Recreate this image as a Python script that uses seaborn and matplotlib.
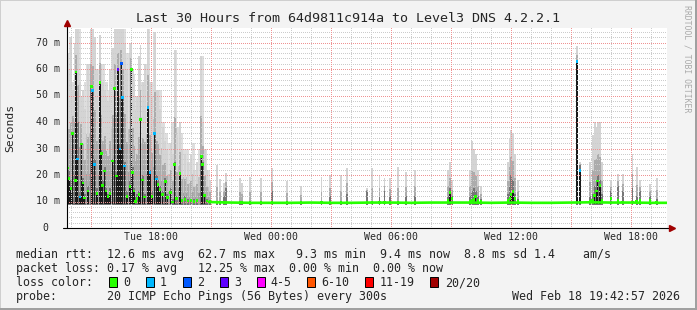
import matplotlib
matplotlib.use("Agg")
import matplotlib.pyplot as plt
import matplotlib.patches as mpatches
import numpy as np
import pandas as pd
import seaborn as sns

# ---------------- data (hours since Tue 00:00, values in ms) ----------------
# individual 5-minute samples with visible smoke / non-baseline medians
ev_t = [13.825, 13.9, 14.0, 14.085, 14.215, 14.25, 14.335, 14.45, 14.515, 14.6,
        14.685, 14.85, 15.015, 15.085, 15.185, 15.3, 15.45, 15.515, 15.585, 15.685,
        15.75, 15.85, 15.95, 16.085, 16.185, 16.265, 16.35, 16.45, 16.515, 16.585,
        16.685, 16.8, 16.95, 17.015, 17.085, 17.15, 17.215, 17.3, 17.4, 17.475,
        17.585, 17.685, 17.85, 17.95, 18.05, 18.185, 18.285, 18.35, 18.45, 18.585,
        18.715, 18.815, 18.985, 19.085, 19.185, 19.285, 19.45, 19.55, 19.7, 19.85,
        20.0, 20.15, 20.3, 20.515, 20.585, 20.685, 20.8, 20.95,
        21.3, 21.45, 21.65, 21.75, 22.45, 22.55, 22.95, 23.5, 24.05, 24.8,
        25.5, 26.525, 26.95, 27.5, 27.8, 28.8, 29.05, 29.425, 29.675, 29.95,
        30.35, 30.75, 31.2, 32.85, 32.95, 33.05, 33.95, 34.05, 34.15, 34.235,
        34.35, 34.5, 35.85, 35.95, 36.0, 36.1, 36.2, 36.35, 39.3, 39.45,
        39.95, 40.085, 40.185, 40.285, 40.335, 40.45, 40.55, 41.0, 41.35, 41.585,
        42.075, 42.285, 42.45, 42.95, 43.285]
ev_med = [22.6, 18.8, 15.0, 35.8, 18.0, 58.9, 26.0, 11.7, 31.7, 17.0,
          11.3, 14.0, 53.3, 52.0, 24.0, 13.0, 54.8, 28.0, 16.0, 21.5,
          14.0, 12.0, 13.0, 25.3, 52.5, 19.6, 59.9, 29.8, 62.0, 49.2,
          23.4, 12.0, 15.8, 59.9, 20.8, 14.0, 10.0, 11.0, 12.5, 40.8,
          18.1, 11.7, 45.4, 20.8, 12.0, 35.6, 18.5, 16.5, 14.5, 12.5,
          17.5, 11.5, 13.5, 9.8, 24.0, 11.0, 20.6, 10.5, 10.8, 10.2,
          10.5, 10.0, 10.3, 27.0, 24.0, 12.4, 10.2, 10.0,
          9.6, 9.6, 9.6, 9.6, 9.6, 9.6, 9.6, 9.6, 9.6, 9.6,
          9.6, 9.6, 9.6, 9.6, 9.6, 9.6, 9.6, 9.6, 9.6, 9.6,
          9.6, 9.6, 9.6, 10.5, 13.3, 11.0, 10.0, 10.5, 10.8, 11.8,
          10.5, 10.0, 10.5, 11.0, 12.5, 13.7, 11.0, 10.0, 62.8, 21.6,
          10.2, 10.5, 12.2, 14.0, 17.7, 16.0, 10.5, 11.0, 10.5, 9.8,
          9.8, 10.0, 10.5, 10.3, 9.8]
ev_core = [30, 22, 18, 36, 20, 59, 40, 14, 32, 19,
           13, 16, 53, 52, 26, 15, 55, 30, 18, 23,
           15, 13, 15, 26, 53, 21, 60, 32, 62, 50,
           25, 14, 18, 60, 23, 15, 12, 13, 14, 41,
           20, 13, 46, 22, 14, 36, 20, 18, 16, 14,
           19, 13, 15, 11, 25, 12, 21, 11, 12, 11,
           11, 11, 11, 27, 25, 13, 11, 10.5,
           10, 10, 12, 15, 10, 10, 10, 10, 14, 10,
           10, 10, 12, 10, 13, 14, 10, 12, 14, 12,
           10, 12, 12, 12, 15, 12, 12, 14, 15, 14,
           12, 11, 13, 16, 20, 18, 13, 11, 62.8, 23.8,
           12, 13, 16, 18, 20, 18, 13, 14, 16, 14,
           15, 12, 14, 12, 11]
ev_top = [66, 60, 72, 52, 70, 75, 75, 55, 50, 52,
          45, 62, 75, 75, 72, 60, 73, 62, 55, 52,
          50, 48, 60, 68, 75, 75, 75, 75, 75, 75,
          70, 60, 66, 70, 60, 55, 45, 50, 65, 69,
          55, 62, 75, 55, 50, 74, 52, 52, 45, 38,
          33, 30, 32, 28, 67, 35, 40, 30, 28, 25,
          28, 22, 25, 65, 40, 30, 22, 18,
          23.8, 18.5, 17, 20.7, 19, 17, 19.4, 19, 22.8, 17.6,
          16, 19.4, 20, 20, 22.5, 15, 22.7, 20, 19, 19,
          23, 21, 22, 22, 25, 18, 22, 33, 30, 28,
          22, 16, 25, 34, 37, 36, 28, 18, 68.8, 25,
          25, 35, 40, 38, 40, 40, 25, 18, 20.5, 20.5,
          28, 23, 18, 16.7, 19]
ev_loss = [0, 0, 0, 0, 0, 0, 1, 1, 0, 0,
           0, 0, 0, 1, 1, 0, 0, 0, 0, 0,
           0, 0, 0, 0, 0, 0, 3, 1, 2, 1,
           1, 0, 0, 0, 0, 0, 0, 0, 0, 0,
           0, 0, 1, 1, 0, 1, 1, 0, 0, 0,
           0, 0, 0, 0, 0, 0, 0, 0, 0, 0,
           0, 0, 0, 0, 0, 0, 0, 0,
           0, 0, 0, 0, 0, 0, 0, 0, 0, 0,
           0, 0, 0, 0, 0, 0, 0, 0, 0, 0,
           0, 0, 0, 0, 0, 0, 0, 0, 0, 0,
           0, 0, 0, 0, 0, 0, 0, 0, 1, 1,
           0, 0, 0, 0, 0, 0, 0, 0, 0, 0,
           0, 0, 0, 0, 0]

# broad smoke envelope of the turbulent first hours
env_t = [13.8, 13.95, 14.1, 14.25, 14.4, 14.55, 14.7, 14.85, 15.0, 15.15,
         15.3, 15.45, 15.6, 15.75, 15.9, 16.05, 16.2, 16.35, 16.5, 16.65,
         16.8, 16.95, 17.1, 17.25, 17.4, 17.55, 17.7, 17.85, 18.0, 18.15,
         18.3, 18.45, 18.6, 18.75, 18.9, 19.05, 19.2, 19.35, 19.5, 19.65,
         19.8, 19.95, 20.1, 20.25, 20.4, 20.55, 20.7, 20.85, 21.0]
env_top = [66, 72, 55, 75, 75, 50, 55, 62, 75, 72,
           60, 73, 62, 55, 52, 68, 75, 75, 75, 75,
           66, 70, 58, 50, 65, 55, 62, 75, 55, 74,
           52, 52, 40, 36, 32, 40, 67, 38, 36, 30,
           30, 25, 32, 22, 30, 65, 30, 22, 15]

# steady median after things calmed down
base_t = [20.9, 22, 23, 24, 25, 26, 27, 28, 29, 30, 31, 32, 33, 34, 35, 36,
          37, 38, 39, 40, 41, 42, 43, 43.8]
base_ms = [9.8, 9.6, 9.5, 9.5, 9.5, 9.6, 9.5, 9.5, 9.6, 9.6, 9.5, 9.6, 9.6,
           9.6, 9.5, 9.6, 9.5, 9.5, 9.6, 9.7, 9.6, 9.6, 9.5, 9.5]

x_ticks = [18, 24, 30, 36, 42]
x_labels = ["Tue 18:00", "Wed 00:00", "Wed 06:00", "Wed 12:00", "Wed 18:00"]
y_ticks = [0, 10, 20, 30, 40, 50, 60, 70]
y_labels = ["0", "10 m", "20 m", "30 m", "40 m", "50 m", "60 m", "70 m"]

loss_names = ["0", "1", "2", "3", "4-5", "6-10", "11-19", "20/20"]
loss_colors = ["#26ff00", "#00b8ff", "#0059ff", "#5e00ff", "#ff00ff",
               "#ff5500", "#ff0000", "#a10000"]

title = "Last 30 Hours from 64d9811c914a to Level3 DNS 4.2.2.1"
line1 = "median rtt:  12.6 ms avg  62.7 ms max   9.3 ms min  9.4 ms now  8.8 ms sd 1.4    am/s"
line2 = "packet loss: 0.17 % avg   12.25 % max  0.00 % min  0.00 % now"
probe_txt = "20 ICMP Echo Pings (56 Bytes) every 300s"
stamp = "Wed Feb 18 19:42:57 2026"

# ---------------- drawing ----------------
sns.set_theme(style="white")
plt.rcParams['font.family'] = ['DejaVu Sans Mono', 'DejaVu Sans']

W, H = 697, 310
BG = "#f3f3f3"
fig = plt.figure(figsize=(W / 100, H / 100), dpi=100, facecolor=BG)


def fx(px):
    return px / W


def fy(py):
    return 1 - py / H


PW, PH = 600, 200
X0, X1 = 13.8, 43.8
PXMS = 2.65
YMAX = PH / PXMS

ax = fig.add_axes([fx(67), fy(228), PW / W, PH / H])
ax.set_facecolor("white")
for s in ax.spines.values():
    s.set_visible(False)

ev = pd.DataFrame({"t": ev_t, "med": ev_med, "core": ev_core,
                   "top": ev_top, "loss": ev_loss})
floor = 8.6
step = 5 / 60

# envelope smoke (graded from light at the top to darker near the floor)
env_top_a = np.array(env_top, float)
for frac, col in [(1.0, "#dedede"), (0.5, "#c2c2c2"), (0.22, "#a2a2a2")]:
    ax.fill_between(env_t, floor, floor + frac * (env_top_a - floor), step="mid",
                    color=col, lw=0, zorder=0.5)

# per-sample smoke layers
for frac, col in [(1.0, "#d4d4d4"), (0.4, "#acacac"), (0.0, "#767676")]:
    hi = ev["core"] + frac * (ev["top"] - ev["core"])
    ax.bar(ev["t"], hi - floor, bottom=floor, width=step, color=col, lw=0, zorder=1)
dark = ev[ev["med"] > 11]
ax.bar(dark["t"], dark["med"] - 9.0, bottom=9.0, width=0.075, color="#1a1a1a", lw=0, zorder=1.5)

# dotted grid as a pixel-exact overlay (rrdtool draws it over the smoke)
grid = np.zeros((PH, PW, 4))
minor_rgba = (0.80, 0.80, 0.80, 1.0)
major_rgba = (0.94, 0.58, 0.58, 1.0)
for v in range(2, 76, 2):
    r = int(round((YMAX - v) * PXMS))
    if 0 <= r < PH and v % 10:
        grid[r, ::2] = minor_rgba
for h in range(14, 44):
    c = int(round((h - X0) * 20))
    if 0 <= c < PW and h % 3:
        grid[::2, c] = minor_rgba
for v in range(10, 80, 10):
    r = int(round((YMAX - v) * PXMS))
    if 0 <= r < PH:
        grid[r, ::2] = major_rgba
for h in range(15, 44, 3):
    c = int(round((h - X0) * 20))
    if 0 <= c < PW:
        grid[::2, c] = major_rgba
ax.imshow(grid, extent=(X0, X1, 0, YMAX), origin="upper", aspect="auto",
          interpolation="nearest", zorder=2)

# median line + coloured median samples
sns.lineplot(x=base_t, y=base_ms, color=loss_colors[0], lw=1.9, ax=ax, zorder=3)
pal = {i: c for i, c in enumerate(loss_colors)}
sns.scatterplot(data=ev, x="t", y="med", hue="loss", palette=pal, marker="s", s=4,
                linewidth=0, legend=False, ax=ax, zorder=4)

ax.set_xlim(X0, X1)
ax.set_ylim(0, YMAX)
ax.set_xlabel("")
ax.set_ylabel("")
ax.set_xticks([])
ax.set_yticks([])

# axes lines and arrows
ax.plot([-4 / PW, 1 + 3 / PW], [0, 0], transform=ax.transAxes, color="black",
        lw=0.8, clip_on=False, zorder=5)
ax.plot([0, 0], [0, 1 + 4 / PH], transform=ax.transAxes, color="black",
        lw=0.8, clip_on=False, zorder=5)
ax.plot([0], [1 + 5 / PH], transform=ax.transAxes, marker="^", ms=4.5,
        color="#a00000", clip_on=False, zorder=6)
ax.plot([1 + 5 / PW], [0], transform=ax.transAxes, marker=">", ms=4.5,
        color="#a00000", clip_on=False, zorder=6)

# tick labels
for xt, lab in zip(x_ticks, x_labels):
    px = 67 + (xt - X0) * 20
    fig.text(fx(px), fy(237.5), lab, ha="center", va="center", fontsize=7.1)
for yt, lab in zip(y_ticks, y_labels):
    py = 228 - yt * PXMS
    xr = 60 if yt else 48
    fig.text(fx(xr), fy(py), lab, ha="right", va="center", fontsize=7.1)

fig.text(fx(10), fy(128), "Seconds", rotation=90, ha="center", va="center", fontsize=8.2)
fig.text(fx(348.5), fy(19), title, ha="center", va="center", fontsize=9.6)
fig.text(fx(687), fy(5), "RRDTOOL / TOBI OETIKER", rotation=-90, ha="center", va="top",
         fontsize=5.9, color="#aaaaaa")

LF = 8.37
fig.text(fx(16), fy(254.5), line1, ha="left", va="center", fontsize=LF)
fig.text(fx(16), fy(268.5), line2, ha="left", va="center", fontsize=LF)
fig.text(fx(16), fy(282.5), "loss color:", ha="left", va="center", fontsize=LF)
box_x = [108.7, 145.7, 182.7, 219.7, 256.7, 306.7, 365.0, 430.0]
lab_x = [123.3, 160.0, 197.0, 234.0, 270.7, 321.7, 380.0, 445.0]
for bx, lx, name, col in zip(box_x, lab_x, loss_names, loss_colors):
    fig.add_artist(mpatches.Rectangle((fx(bx), fy(287)), 8 / W, 10 / H,
                                      transform=fig.transFigure, facecolor=col,
                                      edgecolor="black", lw=0.7))
    fig.text(fx(lx), fy(282.5), name, ha="left", va="center", fontsize=LF)
fig.text(fx(16), fy(296.5), "probe:", ha="left", va="center", fontsize=LF)
fig.text(fx(107.3), fy(296.5), probe_txt, ha="left", va="center", fontsize=LF)
fig.text(fx(680), fy(296.5), stamp, ha="right", va="center", fontsize=LF)

# frame
for (x0, y0, w, h, c) in [(0, 0, 697, 1, "#cfcfcf"), (0, 0, 1, 310, "#cfcfcf"),
                          (695, 0, 2, 310, "#a0a0a0"), (0, 308, 697, 2, "#a0a0a0")]:
    fig.add_artist(mpatches.Rectangle((fx(x0), fy(y0 + h)), w / W, h / H,
                                      transform=fig.transFigure, facecolor=c,
                                      edgecolor="none", lw=0))

fig.savefig("out.png", dpi=100, facecolor=BG)
